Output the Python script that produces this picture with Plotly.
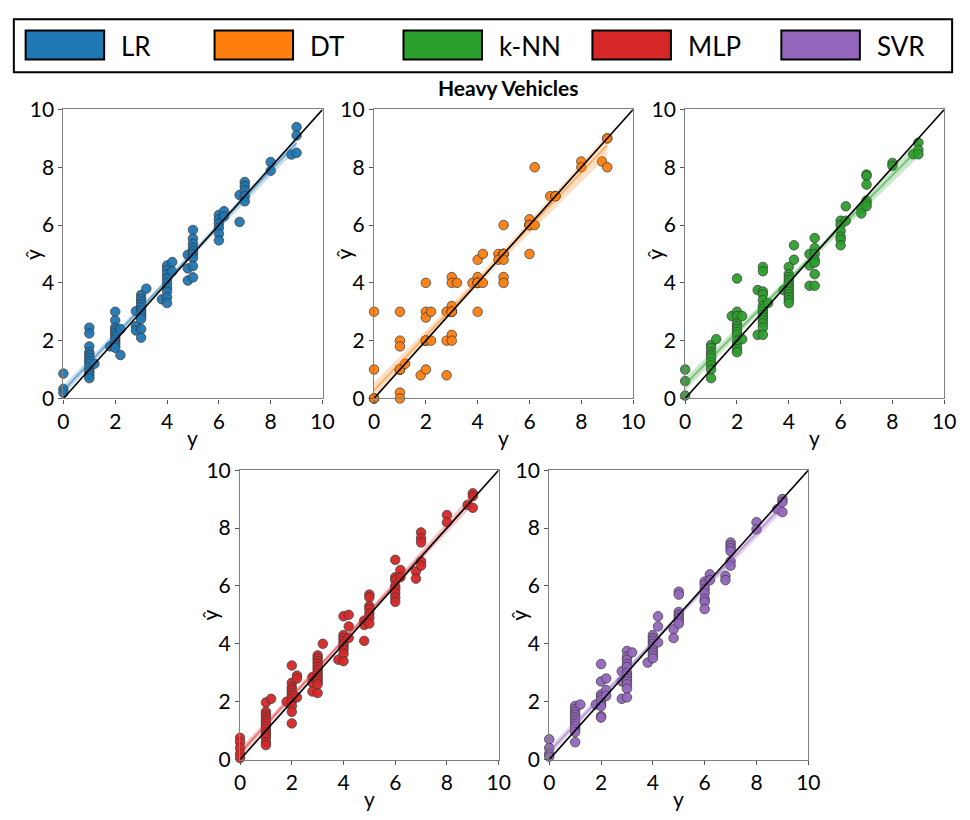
import numpy as np
import plotly.graph_objects as go

# ---------------- data ----------------
MODELS = ["LR", "DT", "k-NN", "MLP", "SVR"]
COLORS = ["#1f77b4", "#ff7f0e", "#2ca02c", "#d62728", "#9467bd"]
TICKS = [0, 2, 4, 6, 8, 10]
TITLE = "Heavy Vehicles"

# each entry: (true value y, [predicted values ŷ])
LR = [
    (0, [0.86, 0.33, 0.2]),
    (1, [2.45, 2.25, 1.8, 1.6, 1.5, 1.4, 1.3, 1.2, 1.1, 1.0, 0.9, 0.8, 0.7]),
    (1.2, [1.2]), (1.8, [1.8]),
    (2, [3.0, 2.7, 2.45, 2.35, 2.25, 2.15, 2.05, 1.95, 1.85, 1.75]),
    (2.2, [2.4, 1.5]), (2.8, [3.02, 2.5, 2.35]),
    (3, [3.58, 3.45, 3.35, 3.25, 3.15, 3.05, 2.95, 2.85, 2.75, 2.4, 2.1]),
    (3.2, [3.8]), (3.8, [3.43]),
    (4, [4.6, 4.45, 4.3, 4.15, 4.0, 3.85, 3.7, 3.5, 3.3]),
    (4.2, [4.72, 4.4]), (4.8, [4.97, 4.5, 4.08]),
    (5, [5.83, 5.53, 5.35, 5.2, 5.1, 5.0, 4.86, 4.58, 4.19]),
    (6, [6.35, 6.2, 6.05, 5.9, 5.7, 5.47]),
    (6.2, [6.48, 6.3]), (6.8, [6.11, 7.04]),
    (7, [7.49, 7.35, 7.2, 7.0, 6.82]),
    (8, [8.18, 7.88]), (8.8, [8.44]), (9, [9.39, 9.1, 8.5]),
]

# decision-tree predictions are exact values; many points overlap at ŷ = y
DT = [
    (0, [3.0, 1.0, 0.0, 0.0, 0.0]),
    (1, [3.0, 2.0, 1.8, 1.0, 1.0, 1.0, 1.0, 1.0, 1.0, 1.0, 1.0, 0.2, 0.0]),
    (1.2, [1.2]), (1.8, [0.8]),
    (2, [4.0, 3.0, 2.8, 2.0, 2.0, 2.0, 2.0, 2.0, 2.0, 2.0, 1.0]),
    (2.2, [3.0, 2.0]), (2.8, [3.0, 2.0, 0.8]),
    (3, [4.2, 4.0, 3.2, 3.0, 3.0, 3.0, 3.0, 3.0, 3.0, 3.0, 2.2, 2.0]),
    (3.2, [4.0]), (3.8, [4.0]),
    (4, [4.8, 4.2, 4.0, 4.0, 4.0, 4.0, 4.0, 4.0, 3.0]),
    (4.2, [5.0, 4.0]), (4.8, [5.0, 4.8]),
    (5, [6.0, 5.0, 5.0, 5.0, 5.0, 4.8, 4.2, 4.0]),
    (6, [6.2, 6.0, 6.0, 6.0, 6.0, 5.0]), (6.2, [8.0, 6.0]),
    (6.8, [7.0]), (7, [7.0, 7.0, 7.0, 7.0]),
    (8, [8.2, 8.0]), (8.8, [8.2]), (9, [9.0, 9.0, 8.0]),
]

KNN = [
    (0, [1.0, 0.6, 0.1]),
    (1, [1.85, 1.75, 1.6, 1.5, 1.4, 1.25, 1.15, 1.0, 0.7]),
    (1.2, [2.05]), (1.8, [2.85]),
    (2, [4.15, 3.0, 2.85, 2.6, 2.5, 2.4, 2.3, 2.2, 2.0, 1.85, 1.7, 1.6]),
    (2.2, [2.85, 2.05]), (2.8, [3.75, 2.2]),
    (3, [4.55, 4.4, 3.7, 3.6, 3.4, 3.2, 3.1, 3.0, 2.9, 2.8, 2.7, 2.6, 2.45, 2.2]),
    (3.2, [3.3]), (3.8, [3.75]),
    (4, [4.55, 4.3, 4.2, 4.1, 4.0, 3.9, 3.8, 3.7, 3.6, 3.5, 3.4, 3.3]),
    (4.2, [5.3, 4.8]), (4.8, [5.0, 4.6, 3.9]),
    (5, [5.55, 5.2, 5.0, 4.8, 4.7, 4.3, 3.9]),
    (6, [6.15, 6.0, 5.8, 5.6, 5.5, 5.3]),
    (6.2, [6.65, 6.15]), (6.8, [6.55, 6.4]),
    (7, [7.75, 7.7, 7.4, 6.85, 6.75, 6.65]),
    (8, [8.15, 8.05]), (8.8, [8.45]), (9, [8.85, 8.6, 8.45]),
]

MLP = [
    (0, [0.75, 0.6, 0.4, 0.2, 0.05]),
    (1, [1.97, 1.65, 1.55, 1.45, 1.35, 1.25, 1.15, 1.05, 0.95, 0.85, 0.75, 0.6, 0.5]),
    (1.2, [2.1]), (1.8, [2.0]),
    (2, [3.25, 2.65, 2.5, 2.4, 2.3, 2.2, 2.1, 2.0, 1.85, 1.65, 1.25]),
    (2.2, [2.9, 2.8, 2.15]), (2.8, [2.85, 2.65, 2.35]),
    (3, [3.6, 3.5, 3.4, 3.3, 3.2, 3.1, 3.0, 2.9, 2.8, 2.7, 2.6, 2.3]),
    (3.2, [4.0]), (3.8, [3.45]),
    (4, [4.95, 4.3, 4.2, 4.1, 4.0, 3.9, 3.8, 3.65, 3.4]),
    (4.2, [5.0, 4.6, 4.2]), (4.8, [4.8, 4.65, 4.1]),
    (5, [5.7, 5.6, 5.3, 5.2, 5.05, 4.9, 4.7]),
    (6, [6.9, 6.3, 6.2, 6.0, 5.9, 5.75, 5.6, 5.45]),
    (6.2, [6.55, 6.3]), (6.8, [6.5, 6.25]),
    (7, [7.85, 7.65, 7.5, 6.85, 6.7]),
    (8, [8.45, 8.2]), (8.8, [8.8]), (9, [9.2, 9.1, 8.7]),
]

SVR = [
    (0, [0.7, 0.4, 0.2, 0.1]),
    (1, [1.85, 1.75, 1.65, 1.55, 1.45, 1.35, 1.25, 1.15, 1.05, 0.95, 0.6]),
    (1.2, [1.9]), (1.8, [1.9]),
    (2, [3.3, 2.7, 2.25, 2.15, 2.05, 1.95, 1.85, 1.5, 1.45]),
    (2.2, [2.8, 2.4, 2.2]), (2.8, [3.05, 2.7, 2.1]),
    (3, [3.75, 3.55, 3.45, 3.3, 3.2, 3.0, 2.9, 2.8, 2.7, 2.6, 2.45, 2.15]),
    (3.2, [3.7]), (3.8, [3.35]),
    (4, [4.3, 4.2, 4.1, 4.0, 3.9, 3.8, 3.7, 3.6, 3.5]),
    (4.2, [4.95, 4.6, 4.05]), (4.8, [4.5, 4.2]),
    (5, [5.8, 5.7, 5.1, 5.0, 4.9, 4.8, 4.7]),
    (6, [6.15, 6.05, 5.9, 5.75, 5.55, 5.45, 5.2]),
    (6.2, [6.4, 6.2]), (6.8, [6.35, 6.2]),
    (7, [7.5, 7.4, 7.3, 7.2, 6.85, 6.7]),
    (8, [8.2, 7.95]), (8.8, [8.65]), (9, [9.0, 8.9, 8.55]),
]

DATA = [LR, DT, KNN, MLP, SVR]

# ---------------- layout geometry (pixels) ----------------
W, H = 970, 820
# (left, right, top, bottom) of each panel in pixels
PANELS = [
    (58.5, 322.5, 98.5, 396.5),
    (375, 639, 98.5, 396.5),
    (692, 956, 98.5, 396.5),
    (238.5, 502, 470.5, 769),
    (553.5, 817.5, 470.5, 769),
]

FONT = "Lato, 'Open Sans', sans-serif"


def rgba(hex_color, a):
    h = hex_color.lstrip("#")
    r, g, b = int(h[0:2], 16), int(h[2:4], 16), int(h[4:6], 16)
    return f"rgba({r},{g},{b},{a})"


fig = go.Figure()
annotations = []
shapes = []

for i, (name, color, groups) in enumerate(zip(MODELS, COLORS, DATA)):
    k = "" if i == 0 else str(i + 1)
    xa, ya = "x" + k, "y" + k
    xs, ys = [], []
    for yt, preds in groups:
        for p in preds:
            xs.append(yt)
            ys.append(p)
    xs = np.array(xs, float)
    ys = np.array(ys, float)

    # scatter
    fig.add_trace(go.Scatter(
        x=xs, y=ys, mode="markers", xaxis=xa, yaxis=ya, showlegend=False,
        marker=dict(size=9.5, color=color, opacity=0.95,
                    line=dict(width=0.8, color="#3a3a3a")),
        cliponaxis=False, hoverinfo="skip"))

    # linear regression fit + 95% confidence band
    slope, icpt = np.polyfit(xs, ys, 1)
    grid = np.linspace(xs.min(), xs.max(), 60)
    fit = slope * grid + icpt
    n = len(xs)
    resid = ys - (slope * xs + icpt)
    s = np.sqrt(np.sum(resid ** 2) / (n - 2))
    sxx = np.sum((xs - xs.mean()) ** 2)
    se = s * np.sqrt(1.0 / n + (grid - xs.mean()) ** 2 / sxx)
    lo, hi = fit - 1.97 * se, fit + 1.97 * se
    fig.add_trace(go.Scatter(
        x=np.concatenate([grid, grid[::-1]]),
        y=np.concatenate([hi, lo[::-1]]),
        mode="lines", fill="toself", fillcolor=rgba(color, 0.25),
        line=dict(width=0), xaxis=xa, yaxis=ya, showlegend=False,
        hoverinfo="skip"))
    fig.add_trace(go.Scatter(
        x=grid, y=fit, mode="lines", line=dict(color=rgba(color, 0.5), width=2),
        xaxis=xa, yaxis=ya, showlegend=False, hoverinfo="skip"))

    # identity line
    fig.add_trace(go.Scatter(
        x=[0, 10], y=[0, 10], mode="lines", line=dict(color="black", width=1.6),
        xaxis=xa, yaxis=ya, showlegend=False, hoverinfo="skip"))

    L, R, T, B = PANELS[i]
    axis_common = dict(
        range=[0, 10], tickvals=TICKS, ticks="outside", ticklen=4, tickwidth=1,
        tickcolor="#555", showline=True, linecolor="#808080", linewidth=1.2,
        mirror=True, showgrid=False, zeroline=False,
        tickfont=dict(family=FONT, size=21, color="black"),
    )
    fig.layout["xaxis" + k] = dict(axis_common, domain=[L / W, R / W], anchor=ya)
    fig.layout["yaxis" + k] = dict(axis_common, domain=[1 - B / H, 1 - T / H], anchor=xa)

    # axis titles
    annotations.append(dict(
        text="y", x=(L + R) / 2 / W, y=1 - (B + 40) / H, xref="paper", yref="paper",
        showarrow=False, xanchor="center", yanchor="middle",
        font=dict(family=FONT, size=21, color="black")))
    annotations.append(dict(
        text="ŷ", x=(L - 31) / W, y=1 - (T + B) / 2 / H, xref="paper", yref="paper",
        showarrow=False, xanchor="center", yanchor="middle", textangle=-90,
        font=dict(family=FONT, size=21, color="black")))

# title
annotations.append(dict(
    text="<b>" + TITLE + "</b>", x=512 / W, y=1 - 76 / H, xref="paper", yref="paper",
    showarrow=False, xanchor="center", yanchor="middle",
    font=dict(family=FONT, size=21, color="black")))

# legend box
shapes.append(dict(type="rect", xref="paper", yref="paper",
                   x0=8 / W, x1=964 / W, y0=1 - 60 / H, y1=1 - 5.5 / H,
                   line=dict(color="black", width=2), fillcolor="white"))
SW_X0 = [20, 212.5, 405, 597.5, 790]
for name, color, x0 in zip(MODELS, COLORS, SW_X0):
    shapes.append(dict(type="rect", xref="paper", yref="paper",
                       x0=x0 / W, x1=(x0 + 80) / W, y0=1 - 47 / H, y1=1 - 17 / H,
                       line=dict(color="black", width=2), fillcolor=color))
    annotations.append(dict(
        text=name, x=(x0 + 95) / W, y=1 - 33 / H, xref="paper", yref="paper",
        showarrow=False, xanchor="left", yanchor="middle",
        font=dict(family=FONT, size=26, color="black")))

fig.update_layout(
    width=W, height=H, margin=dict(l=0, r=0, t=0, b=0),
    paper_bgcolor="white", plot_bgcolor="white",
    annotations=annotations, shapes=shapes, showlegend=False,
)

fig.write_html("out.html")
